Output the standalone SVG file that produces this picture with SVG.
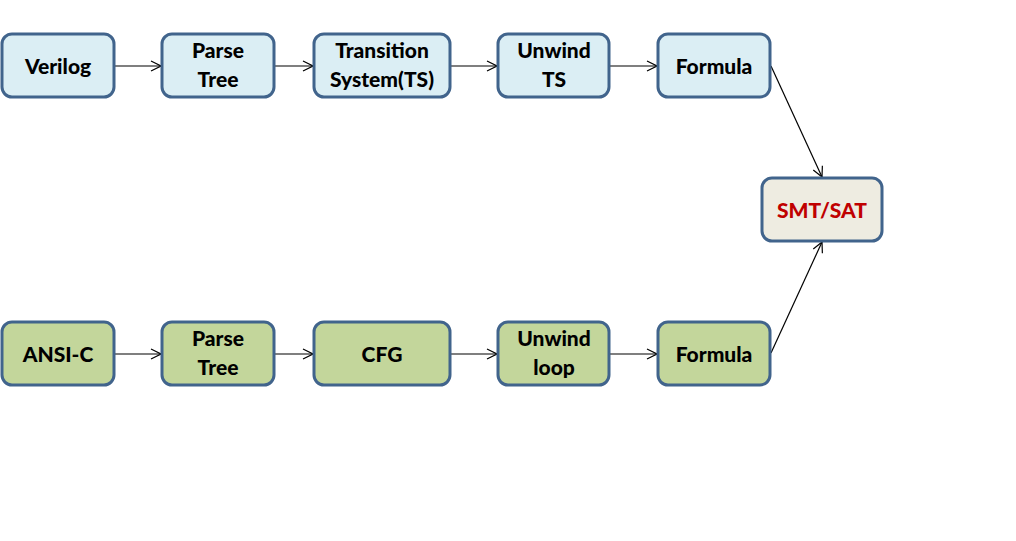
<svg xmlns="http://www.w3.org/2000/svg" width="1016" height="541" viewBox="0 0 1016 541">
<style>
.box{stroke:#41648c;stroke-width:3}
.top{fill:#dbeef4}
.bot{fill:#c3d69b}
.smt{fill:#eeece1}
text{font-family:Lato,"Open Sans","Liberation Sans",sans-serif;font-weight:900;font-size:21px;text-anchor:middle;fill:#000}
.red{fill:#c00000}
.conn{stroke:#000;stroke-width:1.2;fill:none;marker-end:url(#ah)}
</style>
<defs>
<marker id="ah" viewBox="0 0 12 12" refX="11" refY="6" markerWidth="12" markerHeight="12" markerUnits="userSpaceOnUse" orient="auto">
<path d="M1,1 L11,6 L1,11" fill="none" stroke="#000" stroke-width="1.2"/>
</marker>
</defs>
<rect width="1016" height="541" fill="#fff"/>
<g id="connectors">
<line class="conn" x1="115" y1="66" x2="161" y2="66"/>
<line class="conn" x1="275" y1="66" x2="313" y2="66"/>
<line class="conn" x1="451" y1="66" x2="497" y2="66"/>
<line class="conn" x1="610" y1="66" x2="657" y2="66"/>
<line class="conn" x1="771" y1="66" x2="822" y2="177"/>
<line class="conn" x1="115" y1="354" x2="161" y2="354"/>
<line class="conn" x1="275" y1="354" x2="313" y2="354"/>
<line class="conn" x1="451" y1="354" x2="497" y2="354"/>
<line class="conn" x1="610" y1="354" x2="657" y2="354"/>
<line class="conn" x1="771" y1="353" x2="822" y2="242"/>
</g>
<g id="verilog"><rect class="box top" x="2" y="34" width="112" height="63" rx="10"/><text x="58" y="74">Verilog</text></g>
<g id="parse1"><rect class="box top" x="162" y="34" width="112" height="63" rx="10"/><text x="218" y="58">Parse</text><text x="218" y="87">Tree</text></g>
<g id="ts"><rect class="box top" x="314" y="34" width="136" height="63" rx="10"/><text x="382" y="58">Transition</text><text x="382" y="87">System(TS)</text></g>
<g id="unwindts"><rect class="box top" x="498" y="34" width="111" height="63" rx="10"/><text x="554" y="58">Unwind</text><text x="554" y="87">TS</text></g>
<g id="formula1"><rect class="box top" x="658" y="34" width="112" height="63" rx="10"/><text x="714" y="74">Formula</text></g>
<g id="smtsat"><rect class="box smt" x="762" y="178" width="120" height="63" rx="10"/><text class="red" x="822" y="218">SMT/SAT</text></g>
<g id="ansic"><rect class="box bot" x="2" y="322" width="112" height="63" rx="10"/><text x="58" y="362">ANSI-C</text></g>
<g id="parse2"><rect class="box bot" x="162" y="322" width="112" height="63" rx="10"/><text x="218" y="346">Parse</text><text x="218" y="375">Tree</text></g>
<g id="cfg"><rect class="box bot" x="314" y="322" width="136" height="63" rx="10"/><text x="382" y="362">CFG</text></g>
<g id="unwindloop"><rect class="box bot" x="498" y="322" width="111" height="63" rx="10"/><text x="554" y="346">Unwind</text><text x="554" y="375">loop</text></g>
<g id="formula2"><rect class="box bot" x="658" y="322" width="112" height="63" rx="10"/><text x="714" y="362">Formula</text></g>
</svg>
